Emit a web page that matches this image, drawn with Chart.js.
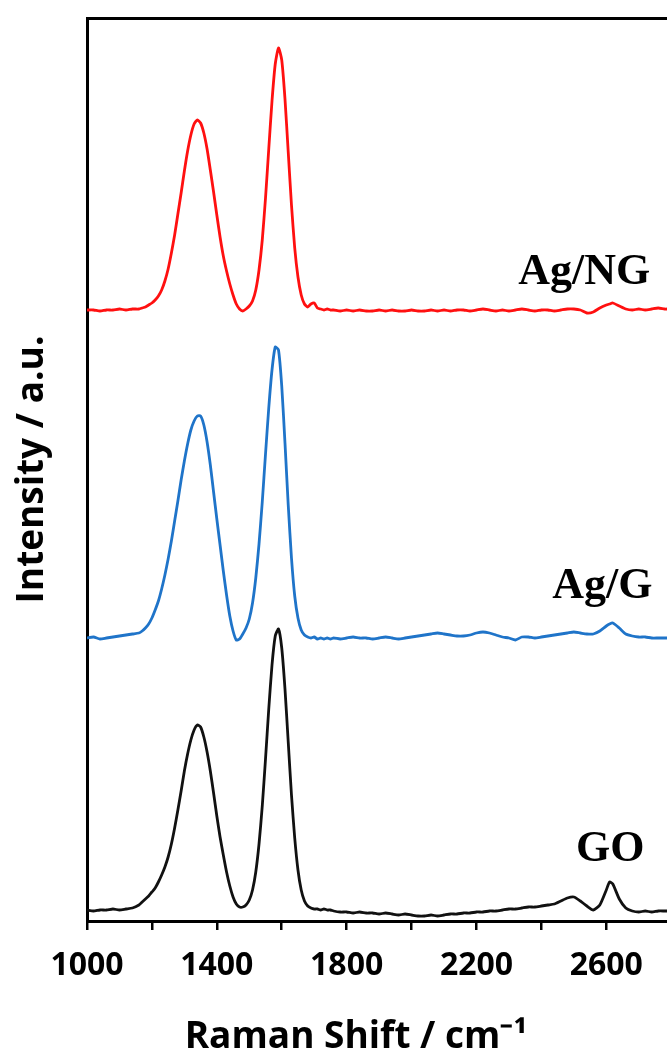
<!DOCTYPE html>
<html>
<head>
<meta charset="utf-8">
<script src="https://cdn.jsdelivr.net/npm/chart.js@4/dist/chart.umd.min.js"></script>
<style>
html,body{margin:0;padding:0;background:#fff;overflow:hidden}
#wrap{position:relative;width:667px;height:1057px}
canvas{display:block}
</style>
</head>
<body>
<div id="wrap"><canvas id="c" width="667" height="1057" style="width:667px;height:1057px"></canvas></div>
<script>
// ---- data (Raman shift in cm^-1, intensities in arbitrary units, stacked with offsets) ----
const ramanShift = [
  1000,1020,1040,1060,1080,1100,1120,1140,
  1160,1170,1180,1190,1200,1210,1220,1230,1240,1250,
  1260,1270,1280,1290,1300,1310,1320,1330,1340,1350,
  1360,1370,1380,1390,1400,1410,1420,1430,1440,1450,
  1460,1470,1480,1490,1500,1510,1520,1530,1540,1550,
  1560,1570,1580,1590,1600,1610,1620,1630,1640,1650,
  1660,1670,1680,1690,1700,1710,1720,1730,1740,1750,
  1760,
  1780,1800,1820,1840,1860,1880,1900,1920,1940,1960,
  1980,2000,2020,2040,2060,2080,2100,2120,2140,2160,
  2180,2200,2220,2240,2260,2280,2300,2320,2340,2360,
  2380,2400,2420,2440,2460,2480,2500,2520,2540,2560,
  2580,2600,
  2610,2620,2640,2660,2680,2700,2720,2740,2760,2780,2790
];

const intensityGO = [
  11,10,11,11,12,11,12,13,
  16,19,22,25,29,33,39,46,54,64,
  77,93,111,130,150,167,181,191,196,194,
  184,169,150,128,105,84,66,49,35,24,
  17,14,14,16,21,31,49,77,115,162,
  212,256,285,292,273,232,179,126,83,51,
  31,20,15,13,12,12,11,12,11,11,
  10,
  9,9,8,9,8,8,7,8,7,6,
  7,6,5,5,6,5,6,7,7,8,
  8,9,9,10,10,11,12,12,13,14,
  14,15,16,17,20,23,24,20,15,11,
  16,31,
  39,37,22,13,10,9,10,9,10,10,10
];

const intensityAgG = [
  283,284,282,283,284,285,286,287,
  288,290,293,297,303,311,320,332,346,362,
  380,400,420,441,460,477,491,500,505,505,
  496,479,456,429,402,376,350,326,305,290,
  281,282,287,293,302,318,343,377,419,467,
  513,551,574,571,535,478,416,363,325,303,
  291,286,284,283,284,282,283,282,283,282,
  283,
  282,283,284,283,283,282,283,284,283,282,
  283,284,285,286,287,288,287,286,285,285,
  286,288,289,288,286,284,283,281,284,284,
  283,284,285,286,287,288,289,288,287,287,
  290,295,
  297,298,293,287,285,284,284,283,283,283,283
];

const intensityAgNG = [
  611,611,610,611,611,612,611,612,
  612,613,614,616,618,621,625,631,640,652,
  668,686,707,728,750,770,786,797,801,798,
  788,772,751,729,706,684,665,650,637,626,
  617,612,610,612,615,620,631,651,681,723,
  772,820,857,873,861,822,769,716,673,644,
  626,617,614,617,618,613,612,611,612,611,
  611,
  610,611,610,611,610,610,611,610,611,610,
  610,611,610,610,611,610,611,610,611,611,
  610,611,612,611,610,611,610,611,612,611,
  610,611,611,610,611,612,612,611,608,609,
  613,616,
  617,618,615,612,611,612,611,612,613,612,612
];

const seriesNames = ['GO', 'Ag/G', 'Ag/NG'];
const xTickValues = [1000, 1200, 1400, 1600, 1800, 2000, 2200, 2400, 2600];
const xTickLabels = [1000, 1400, 1800, 2200, 2600];
const xAxisTitle = 'Raman Shift / cm\u207B\u00B9';
const yAxisTitle = 'Intensity / a.u.';

// ---- build datasets from the arrays ----
function toPoints(ys) { return ramanShift.map((x, i) => ({x: x, y: ys[i]})); }

const seriesLabels = {
  id: 'seriesLabels',
  afterDatasetsDraw(chart, args, opts) {
    const {ctx, scales: {x, y}} = chart;
    ctx.save();
    ctx.font = opts.font;
    ctx.fillStyle = '#000';
    ctx.textAlign = 'center';
    ctx.textBaseline = 'middle';
    chart.data.datasets.forEach((ds, i) => {
      const a = opts.anchors[i];
      ctx.fillText(ds.label, x.getPixelForValue(a[0]), y.getPixelForValue(a[1]));
    });
    ctx.restore();
  }
};

const xTitlePlugin = {
  id: 'xTitle',
  afterDraw(chart, args, opts) {
    const ctx = chart.ctx;
    ctx.save();
    ctx.font = opts.font;
    ctx.fillStyle = '#000';
    ctx.textAlign = 'center';
    ctx.textBaseline = 'middle';
    ctx.fillText(opts.text, opts.cx, opts.cy);
    ctx.restore();
  }
};

new Chart(document.getElementById('c'), {
  type: 'line',
  data: {
    datasets: [
      {label: seriesNames[0], data: toPoints(intensityGO), borderColor: '#111111', borderWidth: 2.8, pointRadius: 0, pointHoverRadius: 0, tension: 0.2, fill: false},
      {label: seriesNames[1], data: toPoints(intensityAgG), borderColor: '#1f74c9', borderWidth: 2.8, pointRadius: 0, pointHoverRadius: 0, tension: 0.2, fill: false},
      {label: seriesNames[2], data: toPoints(intensityAgNG), borderColor: '#ff1010', borderWidth: 2.8, pointRadius: 0, pointHoverRadius: 0, tension: 0.2, fill: false}
    ]
  },
  options: {
    responsive: false,
    animation: false,
    devicePixelRatio: 1,
    events: [],
    layout: {padding: 0, autoPadding: false},
    plugins: {
      legend: {display: false},
      tooltip: {enabled: false},
      seriesLabels: {font: 'bold 44px "Liberation Serif", "Times New Roman", serif', anchors: [[2612, 71], [2588, 334], [2532, 648]]},
      xTitle: {text: xAxisTitle, font: 'bold 37px "Open Sans", sans-serif', cx: 356, cy: 1037}
    },
    scales: {
      x: {
        type: 'linear',
        position: 'bottom',
        min: 1000,
        max: 2787,
        afterFit(s) { s.height = 136; s.paddingLeft = 0; s.paddingRight = 0; },
        afterBuildTicks(s) { s.ticks = xTickValues.map(v => ({value: v})); },
        border: {display: true, color: '#000', width: 3},
        grid: {display: true, drawOnChartArea: false, drawTicks: true, tickLength: 9, color: '#000', lineWidth: 2.5},
        ticks: {
          autoSkip: false,
          maxRotation: 0,
          minRotation: 0,
          padding: 17,
          color: '#000',
          font: {family: '"Open Sans", sans-serif', size: 32, weight: 'bold'},
          callback: (v) => xTickLabels.includes(v) ? String(v) : ''
        }
      },
      xTop: {
        type: 'linear',
        position: 'top',
        min: 1000,
        max: 2787,
        afterFit(s) { s.height = 18; },
        border: {display: true, color: '#000', width: 3},
        grid: {display: true, drawOnChartArea: false, drawTicks: false},
        ticks: {display: false}
      },
      y: {
        type: 'linear',
        position: 'left',
        min: 0,
        max: 903,
        afterFit(s) { s.width = 87; },
        border: {display: true, color: '#000', width: 3},
        grid: {display: true, drawOnChartArea: false, drawTicks: false},
        ticks: {display: false},
        title: {
          display: true,
          text: yAxisTitle,
          color: '#000',
          padding: {top: 10, bottom: 0},
          font: {family: '"Open Sans", sans-serif', size: 37, weight: 'bold'}
        }
      }
    }
  },
  plugins: [seriesLabels, xTitlePlugin]
});
</script>
</body>
</html>
